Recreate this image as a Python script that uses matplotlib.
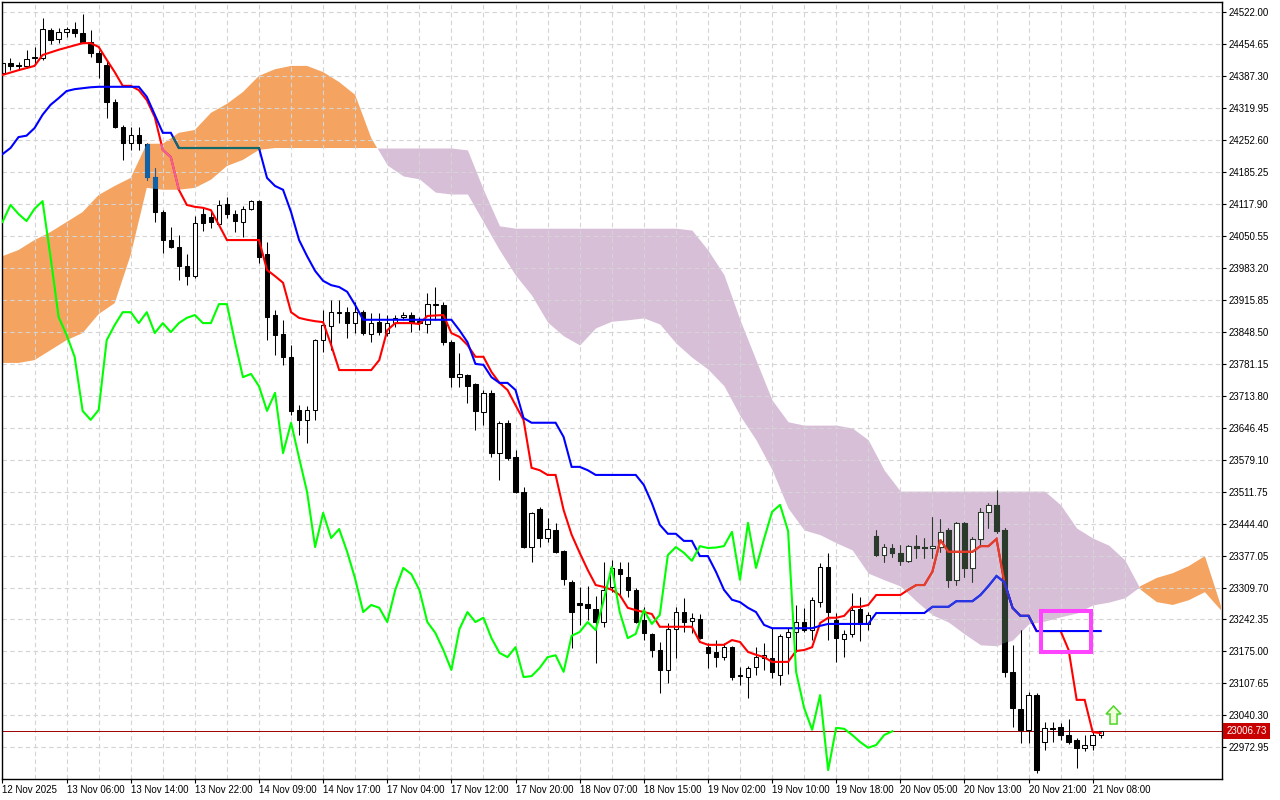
import numpy as np
import matplotlib
matplotlib.use('Agg')
import matplotlib.pyplot as plt
from matplotlib.patches import Rectangle, Polygon
from matplotlib.path import Path
import matplotlib.transforms as mtransforms

plt.rcParams['font.family'] = ['Liberation Sans', 'DejaVu Sans']

# H1 candles, 12 Nov 22:00 .. 21 Nov 09:00
opens = [
    24394, 24415, 24411, 24409, 24426, 24426, 24485, 24466, 24480, 24487,
    24478, 24459, 24436, 24411, 24333, 24280, 24247, 24263, 24245, 24175,
    24101, 24042, 24027, 23987, 23966, 24097, 24091, 24076, 24118, 24097,
    24080, 24108, 24124, 24013, 23884, 23844, 23796, 23684, 23663, 23684,
    23831, 23861, 23888, 23890, 23867, 23890, 23844, 23869, 23846, 23867,
    23880, 23884, 23871, 23865, 23905, 23905, 23827, 23753, 23758, 23739,
    23680, 23720, 23593, 23657, 23585, 23511, 23395, 23475, 23414, 23431,
    23387, 23321, 23277, 23275, 23265, 23237, 23311, 23349, 23332, 23305,
    23241, 23212, 23178, 23136, 23222, 23258, 23239, 23244, 23184, 23174,
    23163, 23184, 23125, 23121, 23142, 23161, 23161, 23125, 23205, 23216,
    23237, 23220, 23279, 23353, 23241, 23201, 23212, 23265, 23233, 23418,
    23378, 23393, 23383, 23366, 23397, 23395, 23393, 23395, 23431, 23326,
    23446, 23351, 23412, 23469, 23484, 23431, 23132, 23054, 23010, 23083,
    22984, 23014, 23016, 22999, 22988, 22972, 22978, 22999]
highs = [
    24419, 24426, 24417, 24443, 24449, 24510, 24489, 24489, 24491, 24502,
    24518, 24485, 24443, 24422, 24339, 24284, 24280, 24280, 24247, 24194,
    24105, 24070, 24053, 24013, 24093, 24112, 24105, 24126, 24133, 24105,
    24114, 24126, 24126, 24038, 23895, 23874, 23821, 23695, 23692, 23833,
    23895, 23916, 23916, 23901, 23911, 23895, 23888, 23888, 23884, 23884,
    23890, 23890, 23880, 23930, 23943, 23911, 23831, 23804, 23760, 23741,
    23726, 23726, 23661, 23663, 23600, 23522, 23469, 23480, 23456, 23446,
    23389, 23326, 23311, 23313, 23292, 23364, 23368, 23364, 23364, 23309,
    23269, 23214, 23195, 23235, 23269, 23288, 23256, 23254, 23193, 23199,
    23193, 23186, 23142, 23144, 23184, 23193, 23224, 23212, 23224, 23273,
    23267, 23290, 23361, 23383, 23256, 23220, 23298, 23290, 23258, 23431,
    23401, 23401, 23399, 23399, 23420, 23414, 23458, 23454, 23435, 23448,
    23448, 23416, 23477, 23488, 23515, 23435, 23189, 23220, 23090, 23088,
    23026, 23026, 23024, 23033, 22993, 22999, 23005, 23008]
lows = [
    24390, 24400, 24400, 24405, 24411, 24422, 24455, 24457, 24470, 24470,
    24457, 24428, 24384, 24299, 24278, 24211, 24232, 24232, 24169, 24080,
    24015, 24025, 23958, 23947, 23962, 24061, 24067, 24072, 24089, 24059,
    24048, 24105, 23994, 23831, 23800, 23779, 23673, 23631, 23614, 23663,
    23806, 23810, 23867, 23836, 23846, 23842, 23827, 23842, 23840, 23859,
    23874, 23848, 23852, 23846, 23874, 23821, 23732, 23732, 23699, 23642,
    23652, 23585, 23536, 23579, 23509, 23393, 23364, 23395, 23406, 23383,
    23315, 23182, 23230, 23241, 23151, 23226, 23300, 23290, 23290, 23235,
    23199, 23163, 23088, 23109, 23161, 23216, 23214, 23201, 23140, 23142,
    23157, 23115, 23104, 23077, 23125, 23136, 23119, 23104, 23128, 23174,
    23216, 23199, 23269, 23199, 23153, 23163, 23205, 23197, 23220, 23376,
    23364, 23374, 23357, 23364, 23372, 23372, 23372, 23385, 23311, 23315,
    23332, 23321, 23399, 23435, 23425, 23121, 23016, 22982, 22982, 22919,
    22967, 22984, 22988, 22980, 22929, 22965, 22967, 22993]
closes = [
    24415, 24409, 24408, 24424, 24428, 24487, 24464, 24480, 24487, 24478,
    24459, 24436, 24417, 24333, 24280, 24247, 24263, 24247, 24175, 24101,
    24042, 24027, 23987, 23966, 24078, 24078, 24080, 24116, 24097, 24082,
    24108, 24124, 24006, 23880, 23842, 23796, 23682, 23663, 23684, 23831,
    23863, 23890, 23890, 23867, 23890, 23846, 23867, 23848, 23867, 23878,
    23884, 23867, 23867, 23907, 23907, 23827, 23753, 23760, 23734, 23682,
    23720, 23593, 23657, 23583, 23511, 23395, 23467, 23414, 23433, 23385,
    23328, 23258, 23273, 23267, 23237, 23305, 23351, 23338, 23305, 23237,
    23214, 23178, 23136, 23222, 23258, 23237, 23246, 23203, 23172, 23163,
    23184, 23121, 23123, 23140, 23163, 23167, 23132, 23208, 23216, 23237,
    23220, 23283, 23353, 23258, 23203, 23212, 23262, 23233, 23252, 23378,
    23395, 23383, 23366, 23397, 23393, 23394, 23397, 23427, 23326, 23446,
    23351, 23412, 23469, 23484, 23429, 23132, 23056, 23010, 23083, 22925,
    23014, 23012, 22999, 22984, 22972, 22978, 22999, 23006.73]

# Tenkan-sen (bar, price)
tenkan_pts = [
    (0, 24390), (2, 24400), (4, 24409), (5, 24432), (7, 24443), (10, 24457), (11, 24457),
    (12, 24449), (13, 24422), (14, 24396), (15, 24367), (16, 24367), (17, 24358), (18, 24337),
    (19, 24301), (20, 24232), (21, 24217), (22, 24148), (23, 24116), (24, 24112), (25, 24110),
    (26, 24105), (27, 24074), (28, 24042), (32, 24042), (33, 23979), (34, 23966), (35, 23952),
    (36, 23890), (37, 23878), (38, 23874), (39, 23871), (40, 23869), (41, 23821), (42, 23768),
    (46, 23768), (47, 23789), (48, 23852), (49, 23867), (51, 23867), (52, 23865), (53, 23882),
    (55, 23884), (56, 23846), (57, 23838), (58, 23821), (59, 23796), (60, 23796), (61, 23764),
    (62, 23741), (63, 23726), (64, 23694), (65, 23663), (66, 23562), (67, 23557), (68, 23547),
    (69, 23547), (70, 23473), (71, 23421), (72, 23383), (73, 23347), (74, 23315), (75, 23311),
    (76, 23305), (77, 23294), (78, 23267), (79, 23262), (80, 23258), (81, 23254), (82, 23227),
    (86, 23227), (87, 23195), (88, 23189), (90, 23189), (91, 23199), (92, 23195), (93, 23174),
    (94, 23168), (95, 23163), (96, 23153), (98, 23153), (99, 23176), (100, 23178), (101, 23184),
    (102, 23235), (103, 23246), (104, 23246), (105, 23250), (106, 23269), (107, 23269),
    (108, 23273), (109, 23294), (112, 23294), (113, 23305), (114, 23315), (115, 23315),
    (116, 23343), (117, 23410), (118, 23385), (121, 23385), (122, 23397), (123, 23397),
    (124, 23412), (125, 23319), (126, 23267), (127, 23250), (128, 23250), (129, 23218),
    (132, 23218), (133, 23178), (134, 23073), (135, 23073), (136, 23005), (137, 23003)]

# Kijun-sen (bar, price)
kijun_pts = [
    (0, 24223), (1, 24236), (2, 24259), (3, 24262), (4, 24278), (5, 24306), (6, 24327),
    (7, 24341), (8, 24356), (9, 24360), (10, 24362), (11, 24364), (12, 24365), (17, 24365),
    (18, 24344), (19, 24306), (20, 24268), (21, 24268), (22, 24236), (32, 24236), (33, 24173),
    (34, 24156), (35, 24148), (36, 24101), (37, 24042), (38, 24008), (39, 23977), (40, 23956),
    (41, 23947), (42, 23943), (43, 23933), (44, 23905), (45, 23874), (56, 23874), (57, 23852),
    (58, 23827), (59, 23781), (60, 23779), (61, 23753), (62, 23741), (63, 23741), (64, 23726),
    (65, 23667), (66, 23657), (69, 23657), (70, 23627), (71, 23564), (72, 23564), (73, 23557),
    (74, 23547), (79, 23547), (80, 23526), (81, 23488), (82, 23442), (83, 23423), (84, 23423),
    (85, 23408), (86, 23408), (87, 23376), (88, 23376), (89, 23343), (90, 23305), (91, 23284),
    (92, 23279), (93, 23267), (94, 23258), (95, 23231), (96, 23224), (101, 23224), (102, 23229),
    (103, 23233), (108, 23233), (109, 23256), (115, 23256), (116, 23269), (118, 23269),
    (119, 23281), (121, 23281), (122, 23294), (123, 23313), (124, 23334), (125, 23321),
    (126, 23267), (127, 23250), (128, 23250), (129, 23218), (137, 23218)]

# Kumo, read every 2 bars (runs 26 bars past the last candle, cut by the chart edge)
kumo_bars = list(range(0, 153, 2))
span_a = [
    24008, 24021, 24042, 24059, 24080, 24101, 24137, 24156, 24173, 24245,
    24245, 24268, 24274, 24310, 24329, 24354, 24388, 24402, 24409, 24409,
    24396, 24375, 24348, 24257, 24200, 24177, 24171, 24143, 24139, 24139,
    24080, 24021, 23968, 23926, 23869, 23840, 23821, 23857, 23871, 23874,
    23878, 23865, 23825, 23795, 23770, 23735, 23672, 23621, 23558, 23477,
    23431, 23421, 23404, 23389, 23340, 23326, 23313, 23281, 23252, 23237,
    23212, 23189, 23187, 23199, 23233, 23239, 23248, 23256, 23273, 23279,
    23288, 23313, 23330, 23340, 23355, 23376, 23271]
span_b = [
    23783, 23783, 23789, 23810, 23831, 23846, 23886, 23909, 24011, 24152,
    24148, 24148, 24152, 24169, 24198, 24211, 24232, 24236, 24236, 24236,
    24236, 24236, 24236, 24236, 24236, 24236, 24236, 24236, 24236, 24232,
    24148, 24072, 24067, 24067, 24067, 24067, 24067, 24067, 24067, 24067,
    24067, 24067, 24067, 24063, 24021, 23969, 23874, 23789, 23705, 23659,
    23652, 23652, 23652, 23646, 23621, 23557, 23513, 23513, 23513, 23513,
    23513, 23513, 23513, 23513, 23513, 23513, 23484, 23435, 23414, 23399,
    23368, 23305, 23279, 23273, 23283, 23300, 23262]

price_ticks = [24522.00, 24454.65, 24387.30, 24319.95, 24252.60, 24185.25, 24117.90,
               24050.55, 23983.20, 23915.85, 23848.50, 23781.15, 23713.80, 23646.45,
               23579.10, 23511.75, 23444.40, 23377.05, 23309.70, 23242.35, 23175.00,
               23107.65, 23040.30, 22972.95]
time_bars = [0, 8, 16, 24, 32, 40, 48, 56, 64, 72, 80, 88, 96, 104, 112, 120, 128, 136]
time_labels = ['12 Nov 2025', '13 Nov 06:00', '13 Nov 14:00', '13 Nov 22:00', '14 Nov 09:00',
               '14 Nov 17:00', '17 Nov 04:00', '17 Nov 12:00', '17 Nov 20:00', '18 Nov 07:00',
               '18 Nov 15:00', '19 Nov 02:00', '19 Nov 10:00', '19 Nov 18:00', '20 Nov 05:00',
               '20 Nov 13:00', '20 Nov 21:00', '21 Nov 08:00']

CHIKOU_SHIFT = 26
# drawn objects: rectangle (bars / prices) and buy arrow
box_bar0, box_bar1 = 129.55, 135.8
box_low, box_high = 23174, 23260
arrow_bar, arrow_price = 138.6, 23041

W, H = 1280, 800
fig = plt.figure(figsize=(W / 100, H / 100), dpi=100)
ax = fig.add_axes([2 / W, 21 / H, 1220 / W, 777 / H])
ax.set_xlim(-0.06, 152.13)
ax.set_ylim(22906.2, 24543.7)

o = np.array(opens, float)
h = np.array(highs, float)
l = np.array(lows, float)
c = np.array(closes, float)
x = np.arange(len(c))

kb = np.array(kumo_bars, float)
sa = np.array(span_a, float)
sb = np.array(span_b, float)
kumo_up = ax.fill_between(kb, sa, sb, where=sa >= sb, interpolate=True,
                          color='#f4a460', lw=0, zorder=0.3)
kumo_dn = ax.fill_between(kb, sa, sb, where=sa < sb, interpolate=True,
                          color='#d8bfd8', lw=0, zorder=0.3)
up_path = Path.make_compound_path(*kumo_up.get_paths())
dn_path = Path.make_compound_path(*kumo_dn.get_paths())

tx, ty = zip(*tenkan_pts)
kx, ky = zip(*kijun_pts)


def candles(dark, edge, z, clip=None):
    bull = c >= o
    arts = [ax.vlines(x, l, h, color=edge, lw=0.75, zorder=z)]
    arts.append(ax.bar(x[bull], (c - o)[bull], bottom=o[bull], width=0.55,
                       color='white', edgecolor=edge, linewidth=0.75, zorder=z + 0.01))
    arts.append(ax.bar(x[~bull], (c - o)[~bull], bottom=o[~bull], width=0.55,
                       color=dark, edgecolor=dark, linewidth=0.75, zorder=z + 0.01))
    if clip is not None:
        for a in arts:
            if hasattr(a, 'patches'):
                for p in a.patches:
                    p.set_clip_path(clip, ax.transData)
            else:
                a.set_clip_path(clip, ax.transData)


def ichi_lines(red, blue, z, clip=None):
    ln1, = ax.plot(tx, ty, color=red, lw=1.5, zorder=z, solid_joinstyle='miter')
    ln2, = ax.plot(kx, ky, color=blue, lw=1.5, zorder=z + 0.2, solid_joinstyle='miter')
    if clip is not None:
        ln1.set_clip_path(clip, ax.transData)
        ln2.set_clip_path(clip, ax.transData)


candles('black', 'black', 2)
candles('#1062a8', '#1062a8', 2.05, up_path)
candles('#2b3b2b', '#2b3b2b', 2.05, dn_path)

ichi_lines('#ff0000', '#0000ff', 3)
ichi_lines('#f0609c', '#106a6a', 3.05, up_path)
ichi_lines('#e0402c', '#2838e0', 3.05, dn_path)

# Chikou span: closes shifted back 26 bars
ax.plot(x[CHIKOU_SHIFT:] - CHIKOU_SHIFT, c[CHIKOU_SHIFT:], color='#00ff00', lw=1.5, zorder=3.5)

# current price line + label
last = closes[-1]
ax.axhline(last, color='#a00000', lw=0.7, zorder=1.8)
ax.text(1.0035, last, f'{last:.2f}', transform=ax.get_yaxis_transform(),
        color='white', fontsize=7, va='center', ha='left', clip_on=False,
        bbox=dict(boxstyle='square,pad=0.3', fc='#c80000', ec='none'))

ax.add_patch(Rectangle((box_bar0, box_low), box_bar1 - box_bar0, box_high - box_low,
                       fill=False, ec='#ff44ff', lw=2.9, joinstyle='miter', zorder=5))

arrow_tr = fig.dpi_scale_trans + mtransforms.ScaledTranslation(arrow_bar, arrow_price, ax.transData)
arrow_shape = np.array([(0, 9), (7.5, 1), (3.5, 1), (3.5, -9), (-3.5, -9), (-3.5, 1), (-7.5, 1)]) / 100
ax.add_patch(Polygon(arrow_shape, closed=True, transform=arrow_tr, fc='#f2ffdc',
                     ec='#4cd62a', lw=1.1, zorder=5, clip_on=False))

# axes / grid in terminal style
ax.set_axisbelow(True)
ax.set_yticks(price_ticks)
ax.set_yticklabels([f'{v:.2f}' for v in price_ticks])
ax.set_xticks(time_bars)
ax.set_xticklabels(time_labels)
ax.set_xticks([b + 4 for b in time_bars], minor=True)
for lab in ax.get_xticklabels():
    lab.set_ha('left')
ax.yaxis.tick_right()
ax.tick_params(axis='y', direction='out', length=3, width=0.8, pad=1.5, labelsize=7,
               left=False, right=True, labelleft=False, labelright=True)
ax.tick_params(axis='x', which='major', direction='out', length=3, width=0.8, pad=1.5,
               labelsize=7)
ax.tick_params(axis='x', which='minor', length=0)
ax.grid(True, which='both', color='#d4d4d4', lw=0.8, linestyle=(0, (4, 3)))
for s in ax.spines.values():
    s.set_color('black')
    s.set_linewidth(1.0)

fig.savefig('out.png', dpi=100, facecolor='white')
